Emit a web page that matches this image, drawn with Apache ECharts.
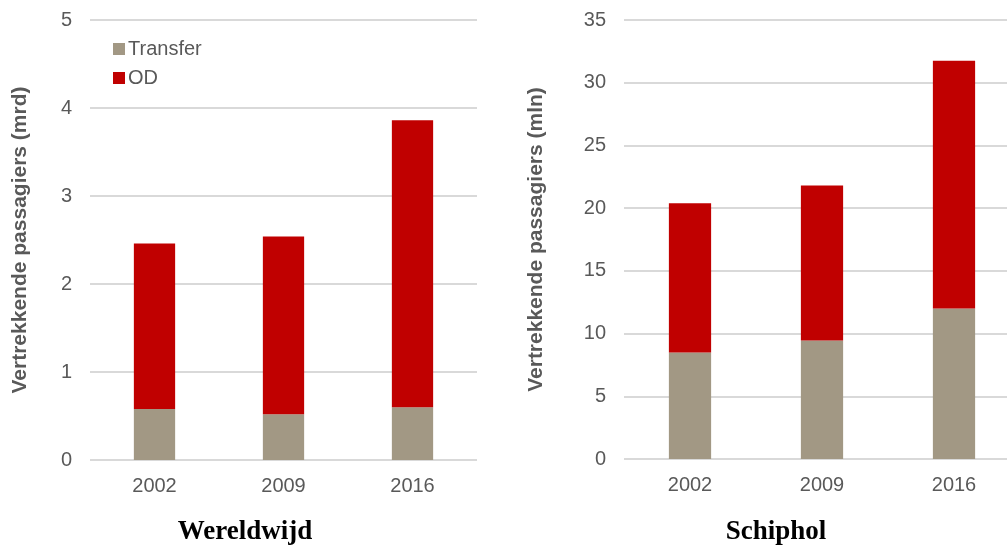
<!DOCTYPE html>
<html>
<head>
<meta charset="utf-8">
<script src="https://cdn.jsdelivr.net/npm/echarts@6/dist/echarts.min.js"></script>
<style>
  html, body { margin: 0; padding: 0; background: #fff; }
  #chart { width: 1007px; height: 548px; }
</style>
</head>
<body>
<div id="chart"></div>
<script>
// Categories (years)
const years = ['2002', '2009', '2016'];

// Wereldwijd (billions)
const worldTransfer = [0.58, 0.52, 0.60];
const worldOD = [1.88, 2.02, 3.26];

// Schiphol (millions)
const schipholTransfer = [8.5, 9.45, 12.0];
const schipholOD = [11.9, 12.35, 19.75];

const transferColor = '#A29884';
const odColor = '#C00000';
const textColor = '#595959';
const gridColor = '#D9D9D9';
const font = 'Liberation Sans, Arial, sans-serif';
const serif = 'Liberation Serif, DejaVu Serif, serif';

const chart = echarts.init(document.getElementById('chart'));

function xAxis(gridIndex) {
  return {
    type: 'category',
    gridIndex: gridIndex,
    data: years,
    axisLine: { show: false },
    axisTick: { show: false },
    axisLabel: { color: textColor, fontSize: 20, fontFamily: font, margin: 16 }
  };
}

function yAxis(gridIndex, max, interval, name, nameGap) {
  return {
    type: 'value',
    gridIndex: gridIndex,
    min: 0,
    max: max,
    interval: interval,
    name: name,
    nameLocation: 'middle',
    nameGap: nameGap,
    nameTextStyle: { color: textColor, fontSize: 21, fontWeight: 'bold', fontFamily: font },
    axisLine: { show: false },
    axisTick: { show: false },
    axisLabel: { color: textColor, fontSize: 20, fontFamily: font, margin: 18 },
    splitLine: { lineStyle: { color: gridColor, width: 2 } }
  };
}

function bar(name, data, color, axisIndex) {
  return {
    name: name,
    type: 'bar',
    stack: 'total' + axisIndex,
    xAxisIndex: axisIndex,
    yAxisIndex: axisIndex,
    data: data,
    barWidth: '32%',
    itemStyle: { color: color }
  };
}

const option = {
  animation: false,
  title: [
    {
      text: 'Wereldwijd',
      left: 240,
      top: 514,
      textAlign: 'center',
      textStyle: { fontFamily: serif, fontSize: 27, fontWeight: 'bold', color: '#000' }
    },
    {
      text: 'Schiphol',
      left: 771,
      top: 514,
      textAlign: 'center',
      textStyle: { fontFamily: serif, fontSize: 27, fontWeight: 'bold', color: '#000' }
    }
  ],
  legend: {
    data: ['Transfer', 'OD'],
    orient: 'vertical',
    left: 108,
    top: 34,
    itemWidth: 12,
    itemHeight: 12,
    itemGap: 9,
    icon: 'rect',
    textStyle: { color: textColor, fontSize: 20, fontFamily: font, padding: [0, 0, 0, -2] }
  },
  grid: [
    { left: 90, width: 387, top: 20, height: 440, outerBoundsMode: 'none' },
    { left: 624, width: 396, top: 20, height: 439, outerBoundsMode: 'none' }
  ],
  xAxis: [xAxis(0), xAxis(1)],
  yAxis: [
    yAxis(0, 5, 1, 'Vertrekkende passagiers (mrd)', 59),
    yAxis(1, 35, 5, 'Vertrekkende passagiers (mln)', 77)
  ],
  series: [
    bar('Transfer', worldTransfer, transferColor, 0),
    bar('OD', worldOD, odColor, 0),
    bar('Transfer', schipholTransfer, transferColor, 1),
    bar('OD', schipholOD, odColor, 1)
  ]
};

chart.setOption(option);
</script>
</body>
</html>
